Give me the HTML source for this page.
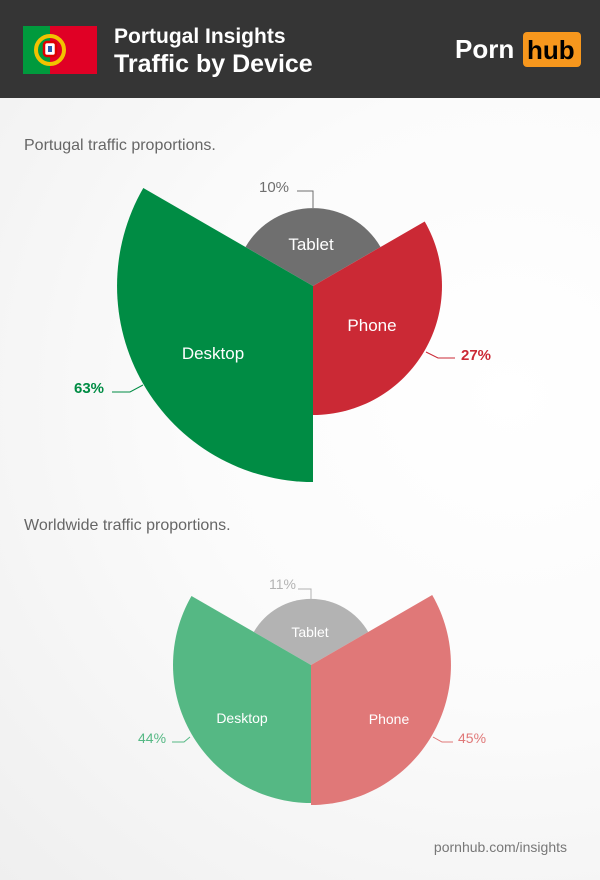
<!DOCTYPE html>
<html><head><meta charset="utf-8"><style>
body{margin:0;width:600px;height:880px;overflow:hidden;font-family:"Liberation Sans",sans-serif;}
.bg{position:absolute;left:0;top:0;width:600px;height:880px;background:radial-gradient(ellipse at 85% 45%,#ffffff 0%,#fbfbfb 45%,#efefef 100%);}
.hdr{position:absolute;left:0;top:0;width:600px;height:98px;background:#353535;}
</style></head><body>
<div class="bg"></div>
<div class="hdr"></div>
<svg width="600" height="880" style="position:absolute;left:0;top:0" font-family="Liberation Sans, sans-serif">
<rect x="23" y="26" width="74" height="48" fill="#e00025"/>
<rect x="23" y="26" width="27" height="48" fill="#009a3d"/>
<circle cx="50" cy="50" r="14" fill="none" stroke="#f2c200" stroke-width="4"/>
<rect x="44" y="42" width="12" height="14" rx="3" fill="#fff" stroke="#d00" stroke-width="2.5"/>
<rect x="48" y="46" width="4" height="6" fill="#2a5bb0"/>
<text x="114" y="43" fill="#fff" font-size="21" font-weight="bold">Portugal Insights</text>
<text x="114" y="72" fill="#fff" font-size="25" font-weight="bold">Traffic by Device</text>
<text x="455" y="58" fill="#fff" font-size="26" font-weight="bold">Porn</text>
<rect x="523" y="32" width="58" height="35" rx="4" fill="#f7971d"/>
<text x="527" y="59" fill="#000" font-size="26" font-weight="bold">hub</text>

<text x="24" y="150" fill="#666" font-size="16">Portugal traffic proportions.</text>
<path d="M313 286 L245.5 247 A78 78 0 0 1 380.5 247 Z" fill="#6f6f6f"/>
<path d="M313 286 L424.7 221.5 A129 129 0 0 1 313 415 Z" fill="#cb2935"/>
<path d="M313 286 L313 482 A196 196 0 0 1 143.3 188 Z" fill="#008c44"/>
<text x="311" y="250" fill="#fff" font-size="17" text-anchor="middle">Tablet</text>
<text x="372" y="331" fill="#fff" font-size="17" text-anchor="middle">Phone</text>
<text x="213" y="359" fill="#fff" font-size="17" text-anchor="middle">Desktop</text>
<polyline points="297,191 313,191 313,208" fill="none" stroke="#6f6f6f"/>
<text x="259" y="192" fill="#6f6f6f" font-size="15">10%</text>
<polyline points="426,352 438,358 455,358" fill="none" stroke="#cb2935"/>
<text x="461" y="360" fill="#cb2935" font-size="15" font-weight="bold">27%</text>
<polyline points="112,392 130,392 143,385" fill="none" stroke="#008c44"/>
<text x="74" y="393" fill="#008c44" font-size="15" font-weight="bold">63%</text>

<text x="24" y="530" fill="#666" font-size="16">Worldwide traffic proportions.</text>
<path d="M311 665 L253.8 632 A66 66 0 0 1 368.2 632 Z" fill="#b3b3b3"/>
<path d="M311 665 L432.2 595 A140 140 0 0 1 311 805 Z" fill="#e07878"/>
<path d="M311 665 L311 803 A138 138 0 0 1 191.5 596 Z" fill="#55b884"/>
<text x="310" y="637" fill="#fff" font-size="14" text-anchor="middle">Tablet</text>
<text x="389" y="724" fill="#fff" font-size="14" text-anchor="middle">Phone</text>
<text x="242" y="723" fill="#fff" font-size="14" text-anchor="middle">Desktop</text>
<polyline points="298,589 311,589 311,599" fill="none" stroke="#b3b3b3"/>
<text x="269" y="589" fill="#b3b3b3" font-size="14">11%</text>
<polyline points="433,737 442,742 453,742" fill="none" stroke="#e07878"/>
<text x="458" y="743" fill="#e07878" font-size="14">45%</text>
<polyline points="172,742 184,742 190,737" fill="none" stroke="#55b884"/>
<text x="138" y="743" fill="#55b884" font-size="14">44%</text>

<text x="567" y="852" fill="#777" font-size="14" text-anchor="end">pornhub.com/insights</text>
</svg>
</body></html>
